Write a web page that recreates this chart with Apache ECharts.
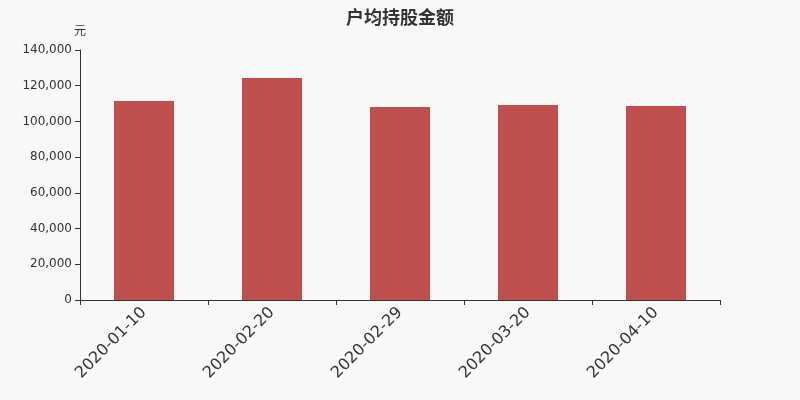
<!DOCTYPE html>
<html>
<head>
<meta charset="utf-8">
<script src="https://cdn.jsdelivr.net/npm/echarts@6/dist/echarts.min.js"></script>
<style>
    html, body {margin: 0; padding: 0; background: #f8f8f8;}
    #chart {width: 800px; height: 400px;}
</style>
</head>
<body>
<div id="chart"></div>
<script>
const dates = ['2020-01-10', '2020-02-20', '2020-02-29', '2020-03-20', '2020-04-10'];
const amounts = [111400, 124300, 108100, 109200, 108600];

const myChart = echarts.init(document.getElementById('chart'));
const option = {
    backgroundColor: '#f8f8f8',
    title: {
        text: '户均持股金额',
        left: 'center',
        top: 3,
        textStyle: {
            color: '#333',
            fontSize: 18,
            fontWeight: 'bold',
            fontFamily: 'Noto Sans CJK SC'
        }
    },
    grid: {
        left: 80,
        right: 80,
        top: 50,
        bottom: 100
    },
    xAxis: {
        type: 'category',
        data: dates,
        axisLine: {lineStyle: {color: '#333'}},
        axisTick: {show: true},
        axisLabel: {
            rotate: 45,
            fontSize: 16,
            color: '#333',
            margin: 10,
            fontFamily: 'DejaVu Sans'
        }
    },
    yAxis: {
        type: 'value',
        name: '元',
        nameGap: 14,
        nameTextStyle: {color: '#333', fontSize: 12, align: 'center', fontFamily: 'Noto Sans CJK SC'},
        min: 0,
        max: 140000,
        interval: 20000,
        axisLine: {show: true, lineStyle: {color: '#333'}},
        axisTick: {show: true},
        splitLine: {show: false},
        axisLabel: {
            color: '#333',
            fontSize: 12,
            fontFamily: 'DejaVu Sans',
            formatter: function (v) {
                return v.toLocaleString('en-US');
            }
        }
    },
    series: [
        {
            type: 'bar',
            data: amounts,
            barWidth: 60,
            itemStyle: {color: '#c0504e'}
        }
    ]
};
myChart.setOption(option);
</script>
</body>
</html>
